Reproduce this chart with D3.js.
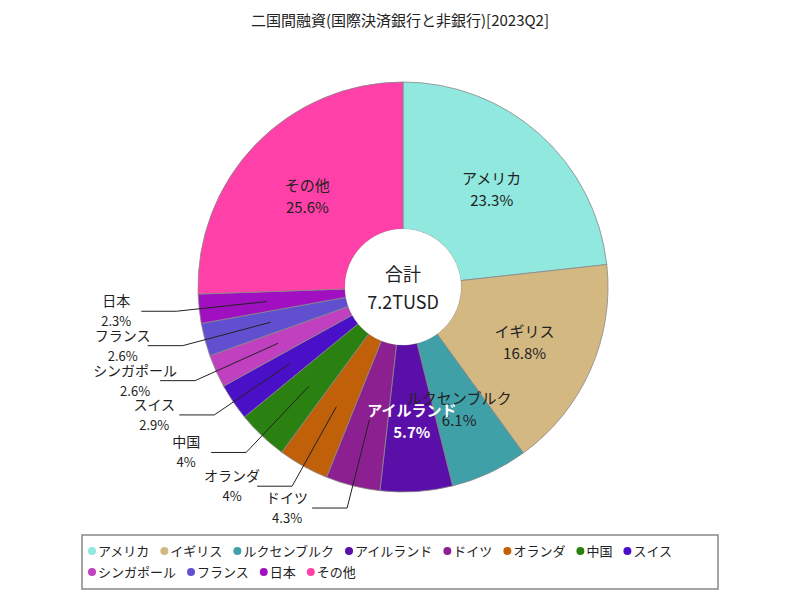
<!DOCTYPE html><html><head><meta charset="utf-8"><script src="https://cdn.jsdelivr.net/npm/d3@7"></script>
<style>body{margin:0;background:#fff}text{font-family:"Noto Sans CJK JP",sans-serif}</style></head><body>
<svg id="c" width="800" height="600"></svg>
<script>
const categories=["アメリカ","イギリス","ルクセンブルク","アイルランド","ドイツ","オランダ","中国","スイス","シンガポール","フランス","日本","その他"];
const values=[23.3,16.8,6.1,5.7,4.3,4,4,2.9,2.6,2.6,2.3,25.6];
const colors=["#90e8de","#d4b882","#40a0a8","#5a10a8","#8c2090","#c06008","#2a8010","#4a10c8","#c040c0","#6050d0","#a010c0","#ff40a8"];
const outsideLabels=["ドイツ","オランダ","中国","スイス","シンガポール","フランス","日本"];
const title="二国間融資(国際決済銀行と非銀行)[2023Q2]";
const centerLines=["合計","7.2TUSD"];
const svg=d3.select("#c");
const cx=403,cy=287,R=205,r0=58;
svg.append("text").attr("x",400).attr("y",26).attr("text-anchor","middle").attr("font-size",15).attr("fill","#222").text(title);
const data=categories.map((c,i)=>({c,v:values[i],col:colors[i]}));
const arcs=d3.pie().sort(null).value(d=>d.v)(data);
const g=svg.append("g").attr("transform",`translate(${cx},${cy})`);
const arc=d3.arc().innerRadius(r0).outerRadius(R);
g.selectAll("path").data(arcs).join("path").attr("d",arc).attr("fill",d=>d.data.col).attr("stroke","#888").attr("stroke-width",0.8);
const pt=(a,rr)=>[Math.sin(a)*rr,-Math.cos(a)*rr];
arcs.forEach(d=>{
  const m=(d.startAngle+d.endAngle)/2;
  const lab=[d.data.c,d.data.v+"%"];
  if(outsideLabels.includes(d.data.c)){
    const a=pt(m,137),b=pt(m,228),e=[b[0]-35,b[1]];
    g.append("polyline").attr("points",[a,b,e].map(p=>p.join(",")).join(" ")).attr("fill","none").attr("stroke","#222").attr("stroke-width",1);
    g.append("text").attr("x",e[0]-25).attr("y",e[1]-5).attr("text-anchor","middle").attr("font-size",14).attr("fill","#222").text(lab[0]);
    g.append("text").attr("x",e[0]-25).attr("y",e[1]+15).attr("text-anchor","middle").attr("font-size",13).attr("fill","#222").text(lab[1]);
  }else{
    const p=pt(m,133);const white=d.data.c==="アイルランド";
    [0,1].forEach(k=>g.append("text").attr("x",p[0]).attr("y",p[1]-4+k*22).attr("text-anchor","middle").attr("font-size",15)
      .attr("font-weight",white?"bold":"normal").attr("fill",white?"#fff":"#222").text(lab[k]));
  }
});
g.append("circle").attr("r",r0).attr("fill","#fff");
g.append("text").attr("y",-6).attr("text-anchor","middle").attr("font-size",18).attr("fill","#222").text(centerLines[0]);
g.append("text").attr("y",22).attr("text-anchor","middle").attr("font-size",18).attr("fill","#222").text(centerLines[1]);
svg.append("rect").attr("x",82).attr("y",535).attr("width",636).attr("height",54).attr("fill","#fff").attr("stroke","#888").attr("stroke-width",1.5);
let x=88,y=551;
data.forEach(d=>{
  const t=svg.append("text").attr("font-size",13).attr("fill","#222").text(d.c);
  const w=t.node().getComputedTextLength();
  if(x+12+w>712){x=88;y+=21;}
  svg.append("circle").attr("cx",x+4).attr("cy",y).attr("r",4).attr("fill",d.col);
  t.attr("x",x+10).attr("y",y+5);
  x+=10+w+11;
});
</script></body></html>
